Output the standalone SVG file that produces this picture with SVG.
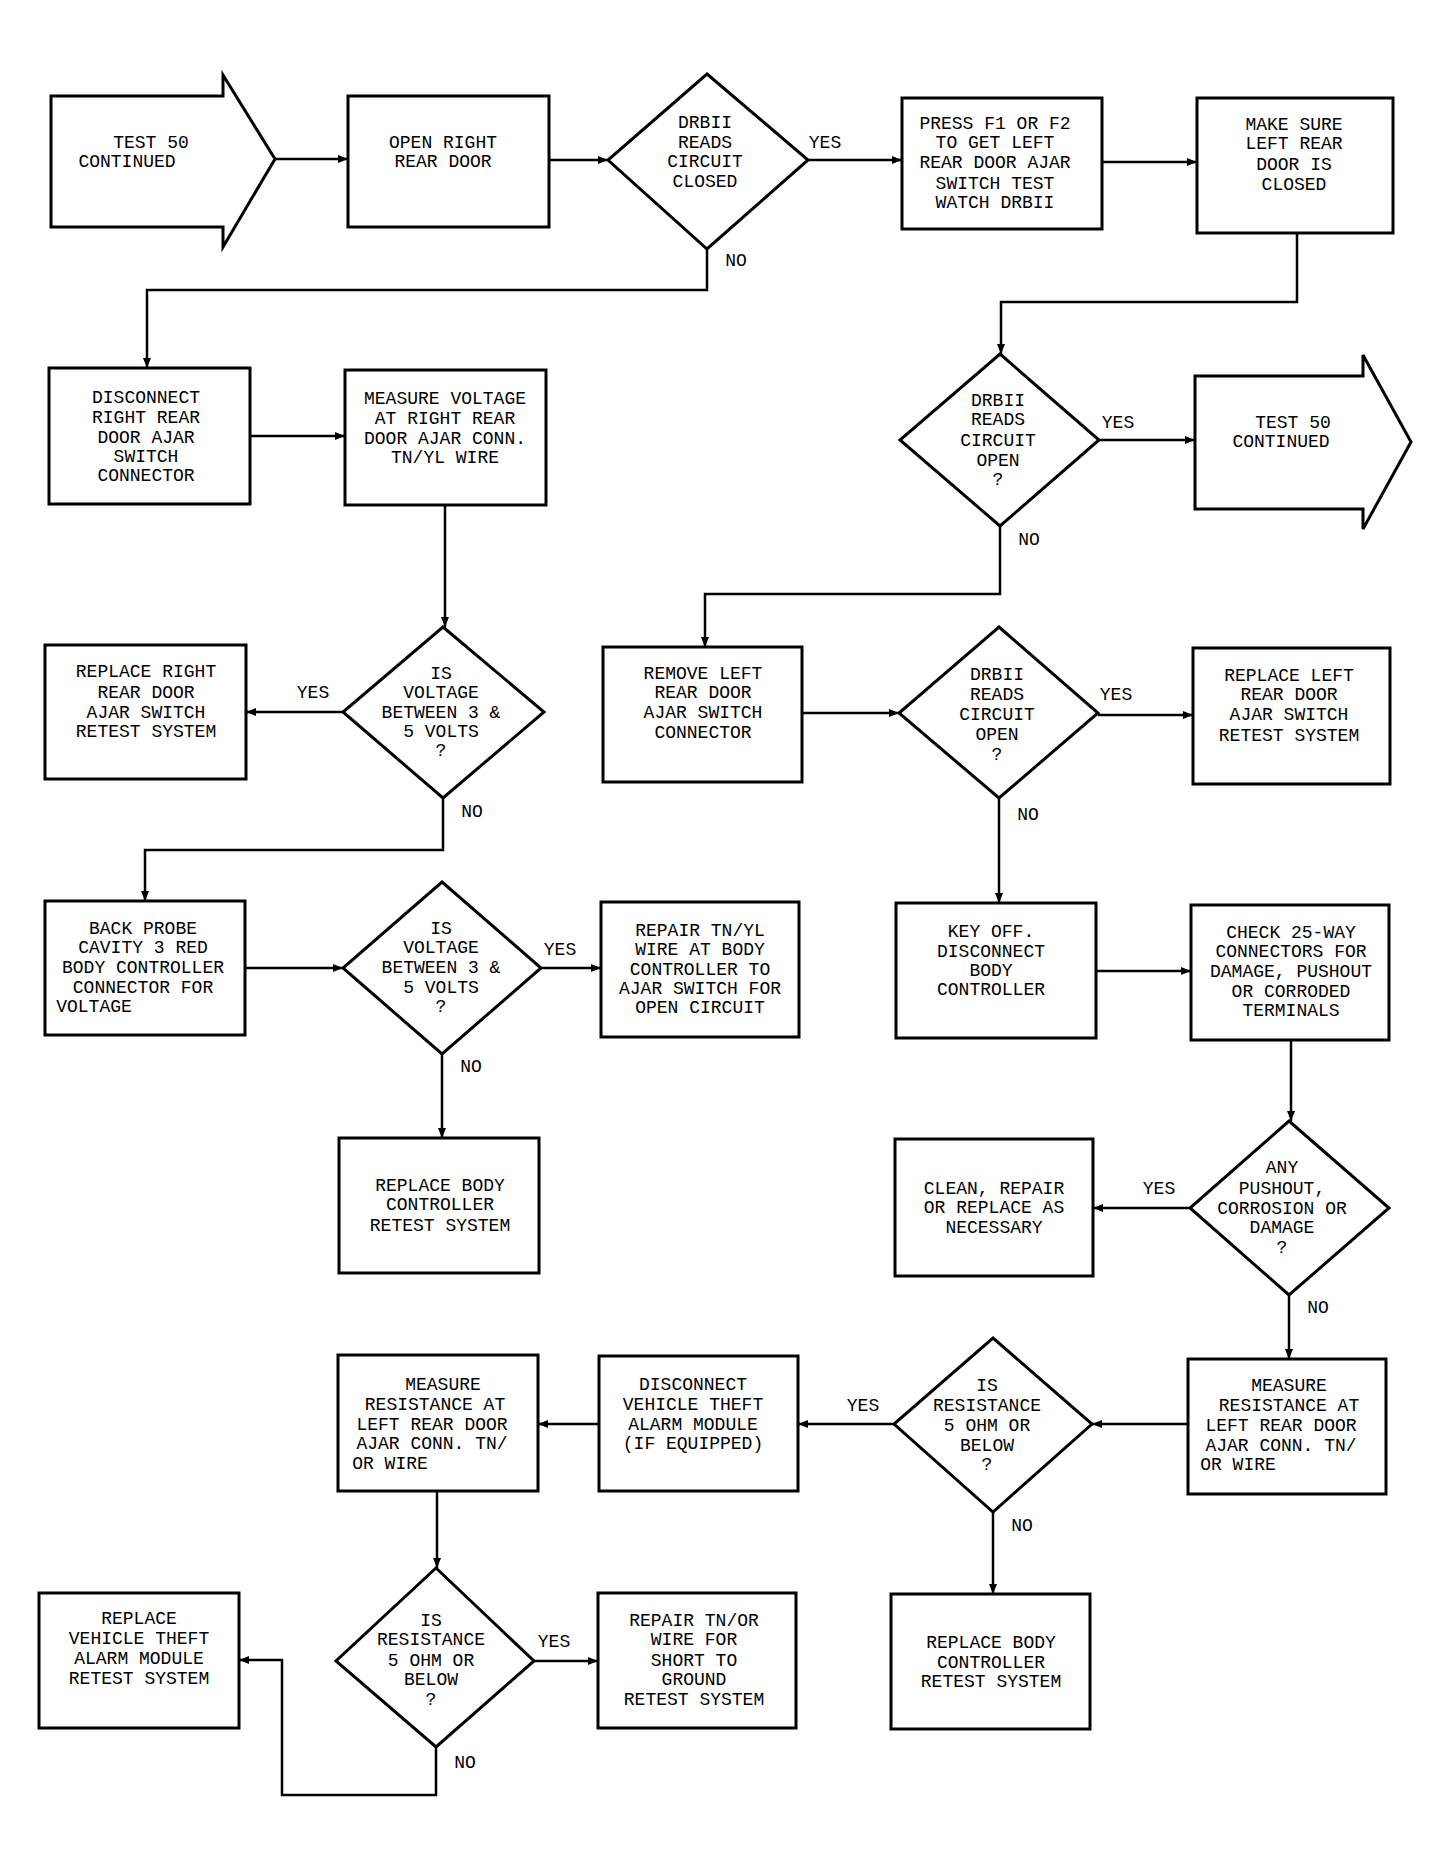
<svg xmlns="http://www.w3.org/2000/svg" width="1446" height="1869" viewBox="0 0 1446 1869">
<style>
.b{fill:#fff;stroke:#000;stroke-width:3}
.c{fill:none;stroke:#000;stroke-width:2.5}
text{font-family:"Liberation Mono","DejaVu Sans Mono",monospace;font-size:18px;fill:#000;text-anchor:middle}
</style>
<defs><marker id="a" viewBox="0 0 10 10" refX="10" refY="5" markerWidth="10" markerHeight="10" markerUnits="userSpaceOnUse" orient="auto"><path d="M0,1 L10,5 L0,9 Z"/></marker></defs>
<rect width="1446" height="1869" fill="#fff"/>
<g id="connectors" class="c" marker-end="url(#a)">
<path d="M275,159 H348"/><path d="M549,160 H608"/><path d="M808,160 H902"/><path d="M1102,162 H1197"/>
<path d="M707,249 V290 H147 V368"/><path d="M1297,233 V302 H1001 V354"/>
<path d="M250,436 H345"/><path d="M1099,440 H1195"/>
<path d="M1000,526 V594 H705 V647"/>
<path d="M445,505 V627"/><path d="M343,712 H246"/><path d="M443,798 V850 H145 V901"/>
<path d="M802,713 H899"/><path d="M1098,715 H1193"/><path d="M999,798 V903"/>
<path d="M245,968 H343"/><path d="M541,968 H601"/><path d="M442,1054 V1138"/>
<path d="M1096,971 H1191"/><path d="M1291,1040 V1121"/><path d="M1190,1208 H1093"/><path d="M1289,1295 V1359"/>
<path d="M1188,1424 H1092"/><path d="M894,1424 H798"/><path d="M599,1424 H538"/><path d="M993,1512 V1594"/>
<path d="M437,1491 V1568"/><path d="M534,1661 H598"/><path d="M436,1747 V1795 H282 V1660 H239"/>
</g>
<g id="labels">
<text x="825" y="148">YES</text><text x="736" y="266">NO</text><text x="1118" y="428">YES</text><text x="1029" y="545">NO</text>
<text x="313" y="698">YES</text><text x="472" y="817">NO</text><text x="1116" y="700">YES</text><text x="1028" y="820">NO</text>
<text x="560" y="955">YES</text><text x="471" y="1072">NO</text><text x="1159" y="1194">YES</text><text x="1318" y="1313">NO</text>
<text x="863" y="1411">YES</text><text x="1022" y="1531">NO</text><text x="554" y="1647">YES</text><text x="465" y="1768">NO</text>
</g>
<g id="n1"><path class="b" d="M51,96 H223 V75 L275,159 L223,247 V227 H51 Z"/><text x="151" y="148">TEST 50</text><text x="127" y="167">CONTINUED</text></g>
<g id="n2"><rect class="b" x="348" y="96" width="201" height="131"/><text x="443" y="148">OPEN RIGHT</text><text x="443" y="167">REAR DOOR</text></g>
<g id="n3"><path class="b" d="M707,74 L808,160 L707,249 L608,160 Z"/><text x="705" y="128">DRBII</text><text x="705" y="148">READS</text><text x="705" y="167">CIRCUIT</text><text x="705" y="187">CLOSED</text></g>
<g id="n4"><rect class="b" x="902" y="98" width="200" height="131"/><text x="995" y="129">PRESS F1 OR F2</text><text x="995" y="148">TO GET LEFT</text><text x="995" y="168">REAR DOOR AJAR</text><text x="995" y="189">SWITCH TEST</text><text x="995" y="208">WATCH DRBII</text></g>
<g id="n5"><rect class="b" x="1197" y="98" width="196" height="135"/><text x="1294" y="130">MAKE SURE</text><text x="1294" y="149">LEFT REAR</text><text x="1294" y="170">DOOR IS</text><text x="1294" y="190">CLOSED</text></g>
<g id="n6"><rect class="b" x="49" y="368" width="201" height="136"/><text x="146" y="403">DISCONNECT</text><text x="146" y="423">RIGHT REAR</text><text x="146" y="443">DOOR AJAR</text><text x="146" y="462">SWITCH</text><text x="146" y="481">CONNECTOR</text></g>
<g id="n7"><rect class="b" x="345" y="370" width="201" height="135"/><text x="445" y="404">MEASURE VOLTAGE</text><text x="445" y="424">AT RIGHT REAR</text><text x="445" y="444">DOOR AJAR CONN.</text><text x="445" y="463">TN/YL WIRE</text></g>
<g id="n8"><path class="b" d="M1000,354 L1099,440 L1000,526 L900,440 Z"/><text x="998" y="406">DRBII</text><text x="998" y="425">READS</text><text x="998" y="446">CIRCUIT</text><text x="998" y="466">OPEN</text><text x="998" y="485">?</text></g>
<g id="n9"><path class="b" d="M1195,376 H1363 V355 L1411,442 L1363,529 V509 H1195 Z"/><text x="1293" y="428">TEST 50</text><text x="1281" y="447">CONTINUED</text></g>
<g id="n10"><rect class="b" x="45" y="645" width="201" height="134"/><text x="146" y="677">REPLACE RIGHT</text><text x="146" y="698">REAR DOOR</text><text x="146" y="718">AJAR SWITCH</text><text x="146" y="737">RETEST SYSTEM</text></g>
<g id="n11"><path class="b" d="M443,627 L544,712 L443,798 L343,712 Z"/><text x="441" y="679">IS</text><text x="441" y="698">VOLTAGE</text><text x="441" y="718">BETWEEN 3 &amp;</text><text x="441" y="737">5 VOLTS</text><text x="441" y="756">?</text></g>
<g id="n12"><rect class="b" x="603" y="647" width="199" height="135"/><text x="703" y="679">REMOVE LEFT</text><text x="703" y="698">REAR DOOR</text><text x="703" y="718">AJAR SWITCH</text><text x="703" y="738">CONNECTOR</text></g>
<g id="n13"><path class="b" d="M999,627 L1098,713 L999,798 L899,713 Z"/><text x="997" y="680">DRBII</text><text x="997" y="700">READS</text><text x="997" y="720">CIRCUIT</text><text x="997" y="740">OPEN</text><text x="997" y="760">?</text></g>
<g id="n14"><rect class="b" x="1193" y="648" width="197" height="136"/><text x="1289" y="681">REPLACE LEFT</text><text x="1289" y="700">REAR DOOR</text><text x="1289" y="720">AJAR SWITCH</text><text x="1289" y="741">RETEST SYSTEM</text></g>
<g id="n15"><rect class="b" x="45" y="901" width="200" height="134"/><text x="143" y="934">BACK PROBE</text><text x="143" y="953">CAVITY 3 RED</text><text x="143" y="973">BODY CONTROLLER</text><text x="143" y="993">CONNECTOR FOR</text><text x="94" y="1012">VOLTAGE</text></g>
<g id="n16"><path class="b" d="M442,882 L541,968 L442,1054 L343,968 Z"/><text x="441" y="934">IS</text><text x="441" y="953">VOLTAGE</text><text x="441" y="973">BETWEEN 3 &amp;</text><text x="441" y="993">5 VOLTS</text><text x="441" y="1012">?</text></g>
<g id="n17"><rect class="b" x="601" y="902" width="198" height="135"/><text x="700" y="936">REPAIR TN/YL</text><text x="700" y="955">WIRE AT BODY</text><text x="700" y="975">CONTROLLER TO</text><text x="700" y="994">AJAR SWITCH FOR</text><text x="700" y="1013">OPEN CIRCUIT</text></g>
<g id="n18"><rect class="b" x="896" y="903" width="200" height="135"/><text x="991" y="937">KEY OFF.</text><text x="991" y="957">DISCONNECT</text><text x="991" y="976">BODY</text><text x="991" y="995">CONTROLLER</text></g>
<g id="n19"><rect class="b" x="1191" y="905" width="198" height="135"/><text x="1291" y="938">CHECK 25-WAY</text><text x="1291" y="957">CONNECTORS FOR</text><text x="1291" y="977">DAMAGE, PUSHOUT</text><text x="1291" y="997">OR CORRODED</text><text x="1291" y="1016">TERMINALS</text></g>
<g id="n20"><rect class="b" x="339" y="1138" width="200" height="135"/><text x="440" y="1191">REPLACE BODY</text><text x="440" y="1210">CONTROLLER</text><text x="440" y="1231">RETEST SYSTEM</text></g>
<g id="n21"><rect class="b" x="895" y="1139" width="198" height="137"/><text x="994" y="1194">CLEAN, REPAIR</text><text x="994" y="1213">OR REPLACE AS</text><text x="994" y="1233">NECESSARY</text></g>
<g id="n22"><path class="b" d="M1289,1121 L1389,1208 L1289,1295 L1190,1208 Z"/><text x="1282" y="1173">ANY</text><text x="1282" y="1194">PUSHOUT,</text><text x="1282" y="1214">CORROSION OR</text><text x="1282" y="1233">DAMAGE</text><text x="1282" y="1253">?</text></g>
<g id="n23"><rect class="b" x="1188" y="1359" width="198" height="135"/><text x="1289" y="1391">MEASURE</text><text x="1289" y="1411">RESISTANCE AT</text><text x="1281" y="1431">LEFT REAR DOOR</text><text x="1281" y="1451">AJAR CONN. TN/</text><text x="1238" y="1470">OR WIRE</text></g>
<g id="n24"><path class="b" d="M993,1338 L1092,1424 L993,1512 L894,1424 Z"/><text x="987" y="1391">IS</text><text x="987" y="1411">RESISTANCE</text><text x="987" y="1431">5 OHM OR</text><text x="987" y="1451">BELOW</text><text x="987" y="1470">?</text></g>
<g id="n25"><rect class="b" x="599" y="1356" width="199" height="135"/><text x="693" y="1390">DISCONNECT</text><text x="693" y="1410">VEHICLE THEFT</text><text x="693" y="1430">ALARM MODULE</text><text x="693" y="1449">(IF EQUIPPED)</text></g>
<g id="n26"><rect class="b" x="338" y="1355" width="200" height="136"/><text x="443" y="1390">MEASURE</text><text x="435" y="1410">RESISTANCE AT</text><text x="432" y="1430">LEFT REAR DOOR</text><text x="432" y="1449">AJAR CONN. TN/</text><text x="390" y="1469">OR WIRE</text></g>
<g id="n27"><rect class="b" x="891" y="1594" width="199" height="135"/><text x="991" y="1648">REPLACE BODY</text><text x="991" y="1668">CONTROLLER</text><text x="991" y="1687">RETEST SYSTEM</text></g>
<g id="n28"><path class="b" d="M436,1568 L534,1661 L436,1747 L336,1661 Z"/><text x="431" y="1626">IS</text><text x="431" y="1645">RESISTANCE</text><text x="431" y="1666">5 OHM OR</text><text x="431" y="1685">BELOW</text><text x="431" y="1705">?</text></g>
<g id="n29"><rect class="b" x="598" y="1593" width="198" height="135"/><text x="694" y="1626">REPAIR TN/OR</text><text x="694" y="1645">WIRE FOR</text><text x="694" y="1666">SHORT TO</text><text x="694" y="1685">GROUND</text><text x="694" y="1705">RETEST SYSTEM</text></g>
<g id="n30"><rect class="b" x="39" y="1593" width="200" height="135"/><text x="139" y="1624">REPLACE</text><text x="139" y="1644">VEHICLE THEFT</text><text x="139" y="1664">ALARM MODULE</text><text x="139" y="1684">RETEST SYSTEM</text></g>
</svg>
